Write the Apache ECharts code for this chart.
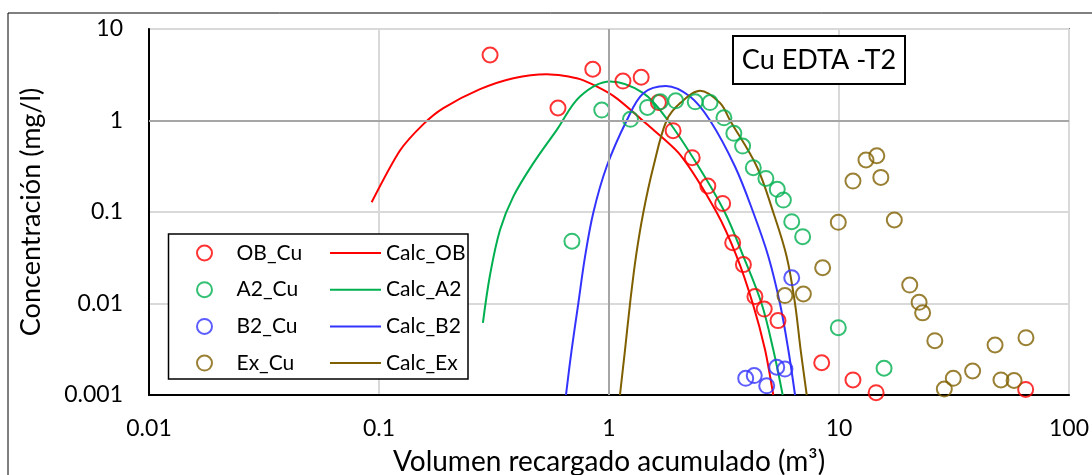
<!DOCTYPE html>
<html><head><meta charset="utf-8">
<script src="https://cdn.jsdelivr.net/npm/echarts@6/dist/echarts.min.js"></script>
<style>html,body{margin:0;padding:0;background:#fff}#c{width:1092px;height:475px}</style>
</head><body><div id="c"></div>
<script>
// ---- tick labels ----
const xTickLabels = ['0.01', '0.1', '1', '10', '100'];
const yTickLabels = ['0.001', '0.01', '0.1', '1', '10'];

// ---- measured points ----
const obCuX = [0.304, 0.60, 0.85, 1.15, 1.38, 1.64, 1.90, 2.30, 2.69, 3.12, 3.45, 3.84, 4.31, 4.73, 5.43, 8.41, 11.5, 14.5, 64.8];
const obCuY = [5.2, 1.37, 3.63, 2.70, 2.97, 1.57, 0.774, 0.392, 0.192, 0.124, 0.0462, 0.0266, 0.0119, 0.0087, 0.0065, 0.00225, 0.00146, 0.00106, 0.00115];

const a2CuX = [0.69, 0.93, 1.24, 1.47, 1.67, 1.95, 2.37, 2.75, 3.16, 3.49, 3.81, 4.24, 4.81, 5.39, 5.73, 6.23, 6.95, 9.93, 15.7];
const a2CuY = [0.048, 1.30, 1.03, 1.39, 1.60, 1.64, 1.60, 1.57, 1.07, 0.725, 0.526, 0.305, 0.233, 0.177, 0.135, 0.0784, 0.0537, 0.00544, 0.00196];

const b2CuX = [3.93, 4.28, 4.85, 5.36, 5.82, 6.23];
const b2CuY = [0.00152, 0.00163, 0.00126, 0.00201, 0.00192, 0.0191];

const exCuX = [5.82, 7.0, 8.49, 9.93, 11.5, 13.1, 14.6, 15.2, 17.4, 20.3, 22.3, 23.1, 26.1, 28.7, 31.4, 38.1, 47.7, 50.6, 57.7, 65.0];
const exCuY = [0.0122, 0.0127, 0.0246, 0.0771, 0.218, 0.370, 0.412, 0.239, 0.0818, 0.0159, 0.0103, 0.0079, 0.00392, 0.00116, 0.00152, 0.00183, 0.00352, 0.00146, 0.00144, 0.00423];

// ---- calculated curves ----
const calcObX = [0.0929, 0.1234, 0.156, 0.1905, 0.275, 0.384, 0.536, 0.748, 1.044, 1.459, 2.04, 2.94, 3.59, 4.22, 4.77, 5.18];
const calcObY = [0.128, 0.470, 0.913, 1.366, 2.20, 2.90, 3.21, 2.83, 1.86, 0.913, 0.422, 0.0988, 0.0327, 0.00993, 0.00312, 0.001];

const calcA2X = [0.283, 0.304, 0.336, 0.384, 0.469, 0.593, 0.748, 1.01, 1.41, 1.805, 2.45, 3.19, 3.84, 4.61, 5.18, 5.69];
const calcA2Y = [0.00615, 0.0206, 0.0639, 0.148, 0.342, 0.791, 1.83, 2.67, 1.99, 1.0, 0.314, 0.0988, 0.0327, 0.00993, 0.00312, 0.001];

const calcB2X = [0.650, 0.688, 0.735, 0.787, 0.855, 0.977, 1.194, 1.41, 1.77, 2.25, 2.75, 3.53, 4.24, 4.93, 5.54, 6.02, 6.44];
const calcB2Y = [0.001, 0.00312, 0.00993, 0.0327, 0.0988, 0.314, 1.0, 1.99, 2.39, 1.83, 1.0, 0.314, 0.0988, 0.0327, 0.00993, 0.00312, 0.001];

const calcExX = [1.116, 1.174, 1.234, 1.31, 1.41, 1.56, 1.78, 2.04, 2.49, 3.04, 3.36, 4.39, 5.18, 5.92, 6.44, 6.81, 7.24];
const calcExY = [0.001, 0.00312, 0.00993, 0.0327, 0.0988, 0.314, 1.0, 1.55, 2.11, 1.55, 1.0, 0.314, 0.0988, 0.0327, 0.00993, 0.00312, 0.001];

const RED = '#FF0000', GREEN = '#00B050', BLUE = '#3333FF', BROWN = '#7F6000';
const FONT = 'Lato';

const pairs = (xs, ys) => xs.map((x, i) => [x, ys[i]]);
const lbl = (arr, offset) => v => arr[Math.round(Math.log10(v)) + offset] || '';

function scatter(name, xs, ys, color) {
  return {
    name, type: 'scatter', data: pairs(xs, ys), symbol: 'circle', symbolSize: 15,
    itemStyle: { color: 'transparent', borderColor: color, borderWidth: 2 }, z: 3
  };
}
function curve(name, xs, ys, color, smooth) {
  return {
    name, type: 'line', data: pairs(xs, ys), symbol: 'none', smooth,
    lineStyle: { color, width: 2 }, itemStyle: { color }, z: 2
  };
}

const series = [
  scatter('OB_Cu', obCuX, obCuY, RED),
  curve('Calc_OB', calcObX, calcObY, RED, 0.25),
  scatter('A2_Cu', a2CuX, a2CuY, GREEN),
  curve('Calc_A2', calcA2X, calcA2Y, GREEN, 0.35),
  scatter('B2_Cu', b2CuX, b2CuY, BLUE),
  curve('Calc_B2', calcB2X, calcB2Y, BLUE, 0.35),
  scatter('Ex_Cu', exCuX, exCuY, BROWN),
  curve('Calc_Ex', calcExX, calcExY, BROWN, 0.35)
];
series[0].markLine = {
  silent: true, symbol: 'none', label: { show: false }, animation: false,
  lineStyle: { color: '#a6a6a6', width: 2, type: 'solid' },
  data: [{ xAxis: 1 }, { yAxis: 1 }]
};

const legendText = { fontFamily: FONT, fontSize: 21, lineHeight: 24, color: '#000' };
const chart = echarts.init(document.getElementById('c'), null, { renderer: 'canvas' });
chart.setOption({
  animation: false,
  backgroundColor: '#fff',
  grid: { left: 149, right: 23, top: 29, bottom: 80, show: true, borderColor: '#222', borderWidth: 1.5,
          containLabel: false, outerBoundsMode: 'none' },
  xAxis: {
    type: 'log', logBase: 10, min: 0.01, max: 100,
    name: 'Volumen recargado acumulado (m³)', nameLocation: 'middle', nameGap: 53,
    nameTextStyle: { fontFamily: FONT, fontSize: 28, color: '#000' },
    axisLine: { lineStyle: { color: '#000', width: 2 } },
    axisTick: { show: false },
    axisLabel: { fontFamily: FONT, fontSize: 23, color: '#000', margin: 22, formatter: lbl(xTickLabels, 2) },
    splitLine: { show: true, lineStyle: { color: '#d9d9d9', width: 2 } },
    minorTick: { show: false }
  },
  yAxis: {
    type: 'log', logBase: 10, min: 0.001, max: 10,
    name: 'Concentración (mg/l)', nameLocation: 'middle', nameGap: 104, nameRotate: 90,
    nameTextStyle: { fontFamily: FONT, fontSize: 27, color: '#000' },
    axisLine: { lineStyle: { color: '#000', width: 2 } },
    axisTick: { show: false },
    axisLabel: { fontFamily: FONT, fontSize: 23, color: '#000', margin: 26, formatter: lbl(yTickLabels, 3) },
    splitLine: { show: true, lineStyle: { color: '#d9d9d9', width: 2 } }
  },
  legend: [
    { data: ['OB_Cu', 'A2_Cu', 'B2_Cu', 'Ex_Cu'], orient: 'vertical', left: 196, top: 241, padding: 0,
      itemWidth: 54, itemHeight: 15, itemGap: 12.7, textStyle: legendText, selectedMode: false, z: 5,
      itemStyle: { borderWidth: 2 } },
    { data: ['Calc_OB', 'Calc_A2', 'Calc_B2', 'Calc_Ex'], orient: 'vertical', left: 329, top: 241, padding: 0,
      itemWidth: 51, itemHeight: 15, itemGap: 12.7, textStyle: legendText, selectedMode: false, z: 5,
      itemStyle: { color: 'transparent', borderWidth: 0, opacity: 0 } }
  ],
  graphic: [
    { type: 'rect', silent: true, z: 0, shape: { x: 8, y: 13, width: 1100, height: 500 },
      style: { fill: 'none', stroke: '#000', lineWidth: 1 } },
    { type: 'rect', silent: true, z: 4, shape: { x: 168.5, y: 234, width: 299.5, height: 145 },
      style: { fill: '#fff', stroke: '#000', lineWidth: 1.5 } },
    { type: 'rect', silent: true, z: 4, shape: { x: 733, y: 36, width: 172, height: 48 },
      style: { fill: '#fff', stroke: '#000', lineWidth: 2 } },
    { type: 'text', silent: true, z: 5, x: 819, y: 60,
      style: { text: 'Cu EDTA -T2', fontFamily: FONT, fontSize: 27, fill: '#000', align: 'center', verticalAlign: 'middle' } }
  ],
  series
});
</script>
</body></html>
